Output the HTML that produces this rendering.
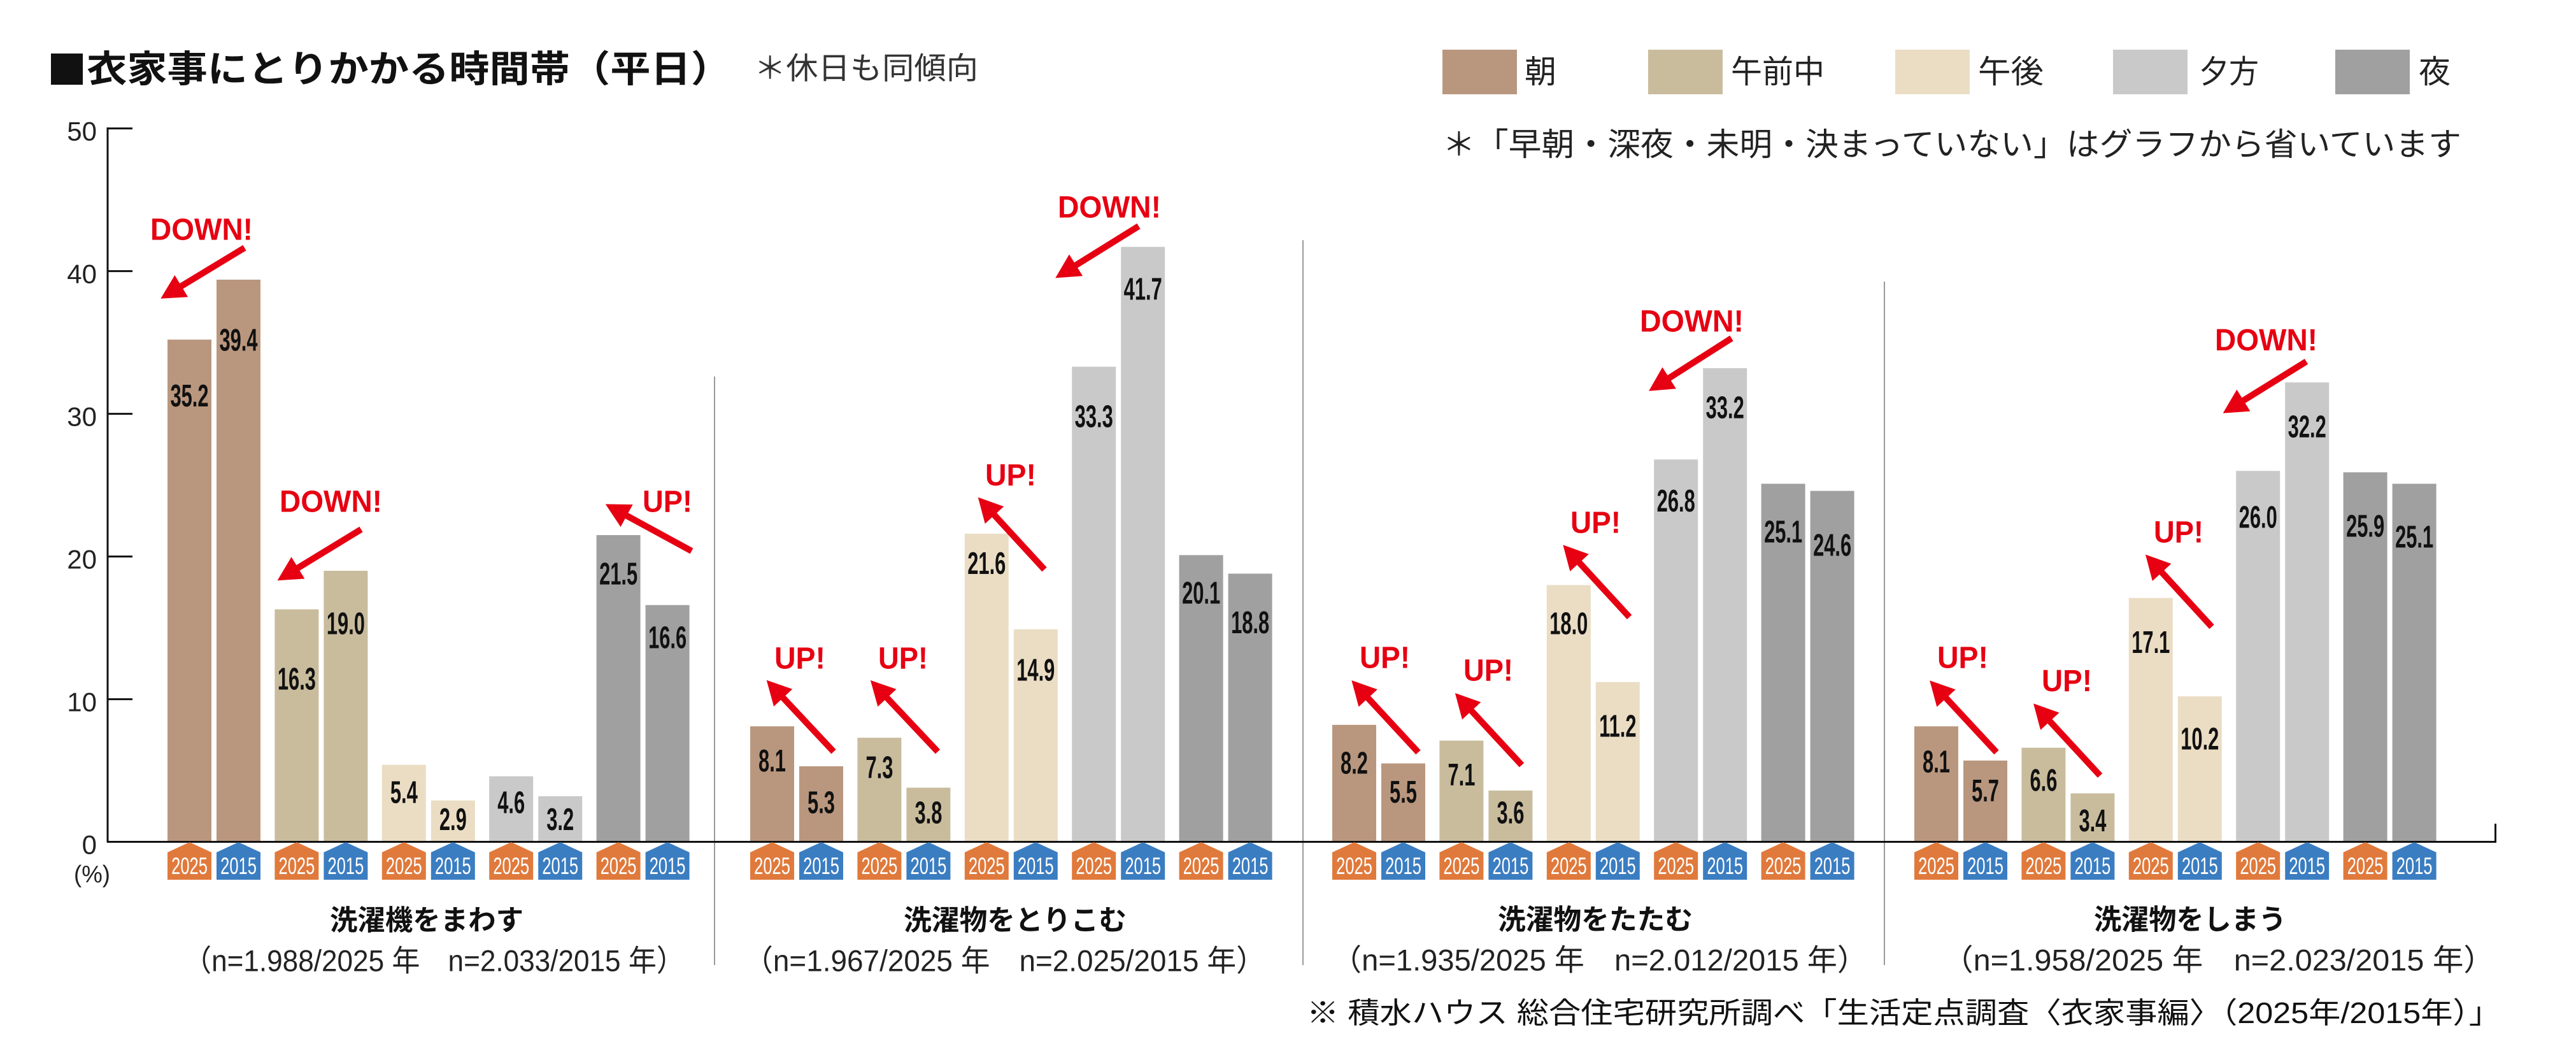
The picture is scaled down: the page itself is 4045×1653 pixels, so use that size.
<!DOCTYPE html>
<html lang="ja">
<head>
<meta charset="utf-8">
<style>
  html,body{margin:0;padding:0;background:#fff;}
  svg{display:block;}
  text{font-family:"Liberation Sans","Noto Sans CJK JP",sans-serif;}
</style>
</head>
<body>
<svg xmlns="http://www.w3.org/2000/svg" xmlns:xlink="http://www.w3.org/1999/xlink" width="4045" height="1653" viewBox="0 0 4045 1653">
<defs>
  <polygon id="arr" points="0,-5 116,-5 116,-20 154,0 116,20 116,5 0,5" fill="#E60012"/>
</defs>
<rect width="4045" height="1653" fill="#fff"/>

<!-- Title -->
<rect x="80" y="84" width="50" height="49" fill="#111"/>
<text x="136" y="109" font-size="58" font-weight="bold" fill="#111" dominant-baseline="central" textLength="1012" lengthAdjust="spacingAndGlyphs">衣家事にとりかかる時間帯（平日）</text>
<text x="1184" y="108" font-size="48" fill="#333" dominant-baseline="central" textLength="352" lengthAdjust="spacingAndGlyphs">＊休日も同傾向</text>

<!-- Legend -->
<rect x="2265" y="78" width="117" height="70" fill="#B9977E"/>
<text x="2394" y="113" font-size="50" fill="#222" dominant-baseline="central">朝</text>
<rect x="2588" y="78" width="117" height="70" fill="#C9BC9D"/>
<text x="2718" y="113" font-size="50" fill="#222" dominant-baseline="central" textLength="147" lengthAdjust="spacingAndGlyphs">午前中</text>
<rect x="2976" y="78" width="117" height="70" fill="#EADDC4"/>
<text x="3106" y="113" font-size="50" fill="#222" dominant-baseline="central" textLength="103" lengthAdjust="spacingAndGlyphs">午後</text>
<rect x="3318" y="78" width="117" height="70" fill="#C9C9C9"/>
<text x="3453" y="113" font-size="50" fill="#222" dominant-baseline="central" textLength="94" lengthAdjust="spacingAndGlyphs">夕方</text>
<rect x="3667" y="78" width="117" height="70" fill="#A0A0A0"/>
<text x="3798" y="113" font-size="50" fill="#222" dominant-baseline="central">夜</text>
<text x="2265" y="227" font-size="50" fill="#222" dominant-baseline="central" textLength="1600" lengthAdjust="spacingAndGlyphs">＊「早朝・深夜・未明・決まっていない」はグラフから省いています</text>

<!-- Y axis -->
<g stroke="#111" stroke-width="3" fill="none">
  <line x1="169" y1="200" x2="169" y2="1322"/>
  <line x1="169" y1="201.6" x2="208" y2="201.6"/>
  <line x1="169" y1="425.6" x2="208" y2="425.6"/>
  <line x1="169" y1="649.6" x2="208" y2="649.6"/>
  <line x1="169" y1="873.6" x2="208" y2="873.6"/>
  <line x1="169" y1="1097.6" x2="208" y2="1097.6"/>
</g>
<g font-size="42" fill="#222" text-anchor="end" dominant-baseline="central">
  <text x="152" y="206">50</text>
  <text x="152" y="430">40</text>
  <text x="152" y="654">30</text>
  <text x="152" y="878">20</text>
  <text x="152" y="1102">10</text>
  <text x="152" y="1326">0</text>
</g>
<text x="116" y="1373" font-size="38" fill="#222" dominant-baseline="central" textLength="57" lengthAdjust="spacingAndGlyphs">(%)</text>

<!-- Separators -->
<g stroke="#9a9a9a" stroke-width="2">
  <line x1="1122" y1="591" x2="1122" y2="1515"/>
  <line x1="2046" y1="377" x2="2046" y2="1515"/>
  <line x1="2959" y1="442" x2="2959" y2="1515"/>
</g>

<!-- Bars -->
<g>
  <!-- G1 -->
  <rect x="263" y="533.1" width="69" height="788.5" fill="#B9977E"/>
  <rect x="340" y="439.0" width="69" height="882.6" fill="#B9977E"/>
  <rect x="431.4" y="956.5" width="69" height="365.1" fill="#C9BC9D"/>
  <rect x="508.4" y="896.0" width="69" height="425.6" fill="#C9BC9D"/>
  <rect x="599.8" y="1200.6" width="69" height="121.0" fill="#EADDC4"/>
  <rect x="676.8" y="1256.6" width="69" height="65.0" fill="#EADDC4"/>
  <rect x="768.2" y="1218.6" width="69" height="103.0" fill="#C9C9C9"/>
  <rect x="845.2" y="1249.9" width="69" height="71.7" fill="#C9C9C9"/>
  <rect x="936.6" y="840.0" width="69" height="481.6" fill="#A0A0A0"/>
  <rect x="1013.6" y="949.8" width="69" height="371.8" fill="#A0A0A0"/>
  <!-- G2 -->
  <rect x="1178" y="1140.2" width="69" height="181.4" fill="#B9977E"/>
  <rect x="1255" y="1202.9" width="69" height="118.7" fill="#B9977E"/>
  <rect x="1346.4" y="1158.1" width="69" height="163.5" fill="#C9BC9D"/>
  <rect x="1423.4" y="1236.5" width="69" height="85.1" fill="#C9BC9D"/>
  <rect x="1514.8" y="837.8" width="69" height="483.8" fill="#EADDC4"/>
  <rect x="1591.8" y="987.8" width="69" height="333.8" fill="#EADDC4"/>
  <rect x="1683.2" y="575.7" width="69" height="745.9" fill="#C9C9C9"/>
  <rect x="1760.2" y="387.5" width="69" height="934.1" fill="#C9C9C9"/>
  <rect x="1851.6" y="871.4" width="69" height="450.2" fill="#A0A0A0"/>
  <rect x="1928.6" y="900.5" width="69" height="421.1" fill="#A0A0A0"/>
  <!-- G3 -->
  <rect x="2092" y="1137.9" width="69" height="183.7" fill="#B9977E"/>
  <rect x="2169" y="1198.4" width="69" height="123.2" fill="#B9977E"/>
  <rect x="2260.4" y="1162.6" width="69" height="159.0" fill="#C9BC9D"/>
  <rect x="2337.4" y="1241.0" width="69" height="80.6" fill="#C9BC9D"/>
  <rect x="2428.8" y="918.4" width="69" height="403.2" fill="#EADDC4"/>
  <rect x="2505.8" y="1070.7" width="69" height="250.9" fill="#EADDC4"/>
  <rect x="2597.2" y="721.3" width="69" height="600.3" fill="#C9C9C9"/>
  <rect x="2674.2" y="577.9" width="69" height="743.7" fill="#C9C9C9"/>
  <rect x="2765.6" y="759.4" width="69" height="562.2" fill="#A0A0A0"/>
  <rect x="2842.6" y="770.6" width="69" height="551.0" fill="#A0A0A0"/>
  <!-- G4 -->
  <rect x="3006" y="1140.2" width="69" height="181.4" fill="#B9977E"/>
  <rect x="3083" y="1193.9" width="69" height="127.7" fill="#B9977E"/>
  <rect x="3174.4" y="1173.8" width="69" height="147.8" fill="#C9BC9D"/>
  <rect x="3251.4" y="1245.4" width="69" height="76.2" fill="#C9BC9D"/>
  <rect x="3342.8" y="938.6" width="69" height="383.0" fill="#EADDC4"/>
  <rect x="3419.8" y="1093.1" width="69" height="228.5" fill="#EADDC4"/>
  <rect x="3511.2" y="739.2" width="69" height="582.4" fill="#C9C9C9"/>
  <rect x="3588.2" y="600.3" width="69" height="721.3" fill="#C9C9C9"/>
  <rect x="3679.6" y="741.4" width="69" height="580.2" fill="#A0A0A0"/>
  <rect x="3756.6" y="759.4" width="69" height="562.2" fill="#A0A0A0"/>
</g>

<!-- Baseline -->
<line x1="168" y1="1321.5" x2="3920" y2="1321.5" stroke="#111" stroke-width="3"/>
<line x1="3918.5" y1="1293" x2="3918.5" y2="1323" stroke="#111" stroke-width="3"/>

<!-- Value labels -->
<g font-size="49" font-weight="bold" fill="#111" text-anchor="middle">
  <!-- G1 -->
  <text transform="translate(297.5,638.1) scale(0.63,1)">35.2</text>
  <text transform="translate(374.5,550.5) scale(0.63,1)">39.4</text>
  <text transform="translate(465.9,1082.5) scale(0.63,1)">16.3</text>
  <text transform="translate(542.9,995.5) scale(0.63,1)">19.0</text>
  <text transform="translate(634.3,1260.5) scale(0.63,1)">5.4</text>
  <text transform="translate(711.3,1303) scale(0.63,1)">2.9</text>
  <text transform="translate(802.7,1276.5) scale(0.63,1)">4.6</text>
  <text transform="translate(879.7,1303) scale(0.63,1)">3.2</text>
  <text transform="translate(971.1,917.5) scale(0.63,1)">21.5</text>
  <text transform="translate(1048.1,1017.5) scale(0.63,1)">16.6</text>
  <!-- G2 -->
  <text transform="translate(1212.5,1211) scale(0.63,1)">8.1</text>
  <text transform="translate(1289.5,1276.5) scale(0.63,1)">5.3</text>
  <text transform="translate(1380.9,1221.5) scale(0.63,1)">7.3</text>
  <text transform="translate(1457.9,1292.5) scale(0.63,1)">3.8</text>
  <text transform="translate(1549.3,901.1) scale(0.63,1)">21.6</text>
  <text transform="translate(1626.3,1068.5) scale(0.63,1)">14.9</text>
  <text transform="translate(1717.7,670.5) scale(0.63,1)">33.3</text>
  <text transform="translate(1794.7,470.5) scale(0.63,1)">41.7</text>
  <text transform="translate(1886.1,947.5) scale(0.63,1)">20.1</text>
  <text transform="translate(1963.1,994.1) scale(0.63,1)">18.8</text>
  <!-- G3 -->
  <text transform="translate(2126.5,1214.5) scale(0.63,1)">8.2</text>
  <text transform="translate(2203.5,1260) scale(0.63,1)">5.5</text>
  <text transform="translate(2294.9,1233.1) scale(0.63,1)">7.1</text>
  <text transform="translate(2371.9,1292.5) scale(0.63,1)">3.6</text>
  <text transform="translate(2463.3,995.5) scale(0.63,1)">18.0</text>
  <text transform="translate(2540.3,1156.5) scale(0.63,1)">11.2</text>
  <text transform="translate(2631.7,803.1) scale(0.63,1)">26.8</text>
  <text transform="translate(2708.7,656.5) scale(0.63,1)">33.2</text>
  <text transform="translate(2800.1,851.5) scale(0.63,1)">25.1</text>
  <text transform="translate(2877.1,872.5) scale(0.63,1)">24.6</text>
  <!-- G4 -->
  <text transform="translate(3040.5,1212.5) scale(0.63,1)">8.1</text>
  <text transform="translate(3117.5,1258.1) scale(0.63,1)">5.7</text>
  <text transform="translate(3208.9,1241.5) scale(0.63,1)">6.6</text>
  <text transform="translate(3285.9,1305) scale(0.63,1)">3.4</text>
  <text transform="translate(3377.3,1025) scale(0.63,1)">17.1</text>
  <text transform="translate(3454.3,1176.5) scale(0.63,1)">10.2</text>
  <text transform="translate(3545.7,828.5) scale(0.63,1)">26.0</text>
  <text transform="translate(3622.7,686.5) scale(0.63,1)">32.2</text>
  <text transform="translate(3714.1,842.5) scale(0.63,1)">25.9</text>
  <text transform="translate(3791.1,859.5) scale(0.63,1)">25.1</text>
</g>

<!-- Badges -->
<g id="badges">
  <!-- G1 -->
  <polygon points="263,1338 297.5,1322 332,1338 332,1381 263,1381" fill="#E07A3C"/>
  <polygon points="340,1338 374.5,1322 409,1338 409,1381 340,1381" fill="#3B7DC1"/>
  <polygon points="431.4,1338 465.9,1322 500.4,1338 500.4,1381 431.4,1381" fill="#E07A3C"/>
  <polygon points="508.4,1338 542.9,1322 577.4,1338 577.4,1381 508.4,1381" fill="#3B7DC1"/>
  <polygon points="599.8,1338 634.3,1322 668.8,1338 668.8,1381 599.8,1381" fill="#E07A3C"/>
  <polygon points="676.8,1338 711.3,1322 745.8,1338 745.8,1381 676.8,1381" fill="#3B7DC1"/>
  <polygon points="768.2,1338 802.7,1322 837.2,1338 837.2,1381 768.2,1381" fill="#E07A3C"/>
  <polygon points="845.2,1338 879.7,1322 914.2,1338 914.2,1381 845.2,1381" fill="#3B7DC1"/>
  <polygon points="936.6,1338 971.1,1322 1005.6,1338 1005.6,1381 936.6,1381" fill="#E07A3C"/>
  <polygon points="1013.6,1338 1048.1,1322 1082.6,1338 1082.6,1381 1013.6,1381" fill="#3B7DC1"/>
  <!-- G2 -->
  <polygon points="1178,1338 1212.5,1322 1247,1338 1247,1381 1178,1381" fill="#E07A3C"/>
  <polygon points="1255,1338 1289.5,1322 1324,1338 1324,1381 1255,1381" fill="#3B7DC1"/>
  <polygon points="1346.4,1338 1380.9,1322 1415.4,1338 1415.4,1381 1346.4,1381" fill="#E07A3C"/>
  <polygon points="1423.4,1338 1457.9,1322 1492.4,1338 1492.4,1381 1423.4,1381" fill="#3B7DC1"/>
  <polygon points="1514.8,1338 1549.3,1322 1583.8,1338 1583.8,1381 1514.8,1381" fill="#E07A3C"/>
  <polygon points="1591.8,1338 1626.3,1322 1660.8,1338 1660.8,1381 1591.8,1381" fill="#3B7DC1"/>
  <polygon points="1683.2,1338 1717.7,1322 1752.2,1338 1752.2,1381 1683.2,1381" fill="#E07A3C"/>
  <polygon points="1760.2,1338 1794.7,1322 1829.2,1338 1829.2,1381 1760.2,1381" fill="#3B7DC1"/>
  <polygon points="1851.6,1338 1886.1,1322 1920.6,1338 1920.6,1381 1851.6,1381" fill="#E07A3C"/>
  <polygon points="1928.6,1338 1963.1,1322 1997.6,1338 1997.6,1381 1928.6,1381" fill="#3B7DC1"/>
  <!-- G3 -->
  <polygon points="2092,1338 2126.5,1322 2161,1338 2161,1381 2092,1381" fill="#E07A3C"/>
  <polygon points="2169,1338 2203.5,1322 2238,1338 2238,1381 2169,1381" fill="#3B7DC1"/>
  <polygon points="2260.4,1338 2294.9,1322 2329.4,1338 2329.4,1381 2260.4,1381" fill="#E07A3C"/>
  <polygon points="2337.4,1338 2371.9,1322 2406.4,1338 2406.4,1381 2337.4,1381" fill="#3B7DC1"/>
  <polygon points="2428.8,1338 2463.3,1322 2497.8,1338 2497.8,1381 2428.8,1381" fill="#E07A3C"/>
  <polygon points="2505.8,1338 2540.3,1322 2574.8,1338 2574.8,1381 2505.8,1381" fill="#3B7DC1"/>
  <polygon points="2597.2,1338 2631.7,1322 2666.2,1338 2666.2,1381 2597.2,1381" fill="#E07A3C"/>
  <polygon points="2674.2,1338 2708.7,1322 2743.2,1338 2743.2,1381 2674.2,1381" fill="#3B7DC1"/>
  <polygon points="2765.6,1338 2800.1,1322 2834.6,1338 2834.6,1381 2765.6,1381" fill="#E07A3C"/>
  <polygon points="2842.6,1338 2877.1,1322 2911.6,1338 2911.6,1381 2842.6,1381" fill="#3B7DC1"/>
  <!-- G4 -->
  <polygon points="3006,1338 3040.5,1322 3075,1338 3075,1381 3006,1381" fill="#E07A3C"/>
  <polygon points="3083,1338 3117.5,1322 3152,1338 3152,1381 3083,1381" fill="#3B7DC1"/>
  <polygon points="3174.4,1338 3208.9,1322 3243.4,1338 3243.4,1381 3174.4,1381" fill="#E07A3C"/>
  <polygon points="3251.4,1338 3285.9,1322 3320.4,1338 3320.4,1381 3251.4,1381" fill="#3B7DC1"/>
  <polygon points="3342.8,1338 3377.3,1322 3411.8,1338 3411.8,1381 3342.8,1381" fill="#E07A3C"/>
  <polygon points="3419.8,1338 3454.3,1322 3488.8,1338 3488.8,1381 3419.8,1381" fill="#3B7DC1"/>
  <polygon points="3511.2,1338 3545.7,1322 3580.2,1338 3580.2,1381 3511.2,1381" fill="#E07A3C"/>
  <polygon points="3588.2,1338 3622.7,1322 3657.2,1338 3657.2,1381 3588.2,1381" fill="#3B7DC1"/>
  <polygon points="3679.6,1338 3714.1,1322 3748.6,1338 3748.6,1381 3679.6,1381" fill="#E07A3C"/>
  <polygon points="3756.6,1338 3791.1,1322 3825.6,1338 3825.6,1381 3756.6,1381" fill="#3B7DC1"/>
</g>
<g font-size="37" fill="#fff" text-anchor="middle">
  <text transform="translate(297.5,1372) scale(0.69,1)">2025</text>
  <text transform="translate(374.5,1372) scale(0.69,1)">2015</text>
  <text transform="translate(465.9,1372) scale(0.69,1)">2025</text>
  <text transform="translate(542.9,1372) scale(0.69,1)">2015</text>
  <text transform="translate(634.3,1372) scale(0.69,1)">2025</text>
  <text transform="translate(711.3,1372) scale(0.69,1)">2015</text>
  <text transform="translate(802.7,1372) scale(0.69,1)">2025</text>
  <text transform="translate(879.7,1372) scale(0.69,1)">2015</text>
  <text transform="translate(971.1,1372) scale(0.69,1)">2025</text>
  <text transform="translate(1048.1,1372) scale(0.69,1)">2015</text>

  <text transform="translate(1212.5,1372) scale(0.69,1)">2025</text>
  <text transform="translate(1289.5,1372) scale(0.69,1)">2015</text>
  <text transform="translate(1380.9,1372) scale(0.69,1)">2025</text>
  <text transform="translate(1457.9,1372) scale(0.69,1)">2015</text>
  <text transform="translate(1549.3,1372) scale(0.69,1)">2025</text>
  <text transform="translate(1626.3,1372) scale(0.69,1)">2015</text>
  <text transform="translate(1717.7,1372) scale(0.69,1)">2025</text>
  <text transform="translate(1794.7,1372) scale(0.69,1)">2015</text>
  <text transform="translate(1886.1,1372) scale(0.69,1)">2025</text>
  <text transform="translate(1963.1,1372) scale(0.69,1)">2015</text>

  <text transform="translate(2126.5,1372) scale(0.69,1)">2025</text>
  <text transform="translate(2203.5,1372) scale(0.69,1)">2015</text>
  <text transform="translate(2294.9,1372) scale(0.69,1)">2025</text>
  <text transform="translate(2371.9,1372) scale(0.69,1)">2015</text>
  <text transform="translate(2463.3,1372) scale(0.69,1)">2025</text>
  <text transform="translate(2540.3,1372) scale(0.69,1)">2015</text>
  <text transform="translate(2631.7,1372) scale(0.69,1)">2025</text>
  <text transform="translate(2708.7,1372) scale(0.69,1)">2015</text>
  <text transform="translate(2800.1,1372) scale(0.69,1)">2025</text>
  <text transform="translate(2877.1,1372) scale(0.69,1)">2015</text>

  <text transform="translate(3040.5,1372) scale(0.69,1)">2025</text>
  <text transform="translate(3117.5,1372) scale(0.69,1)">2015</text>
  <text transform="translate(3208.9,1372) scale(0.69,1)">2025</text>
  <text transform="translate(3285.9,1372) scale(0.69,1)">2015</text>
  <text transform="translate(3377.3,1372) scale(0.69,1)">2025</text>
  <text transform="translate(3454.3,1372) scale(0.69,1)">2015</text>
  <text transform="translate(3545.7,1372) scale(0.69,1)">2025</text>
  <text transform="translate(3622.7,1372) scale(0.69,1)">2015</text>
  <text transform="translate(3714.1,1372) scale(0.69,1)">2025</text>
  <text transform="translate(3791.1,1372) scale(0.69,1)">2015</text>
</g>

<!-- Arrows -->
<g>
  <use xlink:href="#arr" href="#arr" transform="translate(384,389) rotate(148.8)"/>
  <use xlink:href="#arr" href="#arr" transform="translate(567,831) rotate(148.6)"/>
  <use xlink:href="#arr" href="#arr" transform="translate(1086,865) rotate(208.55)"/>
  <use xlink:href="#arr" href="#arr" transform="translate(1309,1180) rotate(-133.15)"/>
  <use xlink:href="#arr" href="#arr" transform="translate(1472.5,1180) rotate(-133.3)"/>
  <use xlink:href="#arr" href="#arr" transform="translate(1640,894) rotate(-132.6)"/>
  <use xlink:href="#arr" href="#arr" transform="translate(1788,355) rotate(148.1)"/>
  <use xlink:href="#arr" href="#arr" transform="translate(2227,1181) rotate(-132.8)"/>
  <use xlink:href="#arr" href="#arr" transform="translate(2389.5,1201) rotate(-132.8)"/>
  <use xlink:href="#arr" href="#arr" transform="translate(2558.6,968.75) rotate(-132.6)"/>
  <use xlink:href="#arr" href="#arr" transform="translate(2719,531) rotate(147.5)"/>
  <use xlink:href="#arr" href="#arr" transform="translate(3135,1181) rotate(-132.9)"/>
  <use xlink:href="#arr" href="#arr" transform="translate(3297.6,1217.5) rotate(-132.75)"/>
  <use xlink:href="#arr" href="#arr" transform="translate(3473,984) rotate(-132.5)"/>
  <use xlink:href="#arr" href="#arr" transform="translate(3621.5,567.5) rotate(148.2)"/>
</g>
<g font-size="48" font-weight="bold" fill="#E60012">
  <text x="236" y="376.5" textLength="161" lengthAdjust="spacingAndGlyphs">DOWN!</text>
  <text x="439" y="803.5" textLength="161" lengthAdjust="spacingAndGlyphs">DOWN!</text>
  <text x="1009" y="803.5" textLength="78" lengthAdjust="spacingAndGlyphs">UP!</text>
  <text x="1216" y="1049.5" textLength="80" lengthAdjust="spacingAndGlyphs">UP!</text>
  <text x="1379" y="1049.5" textLength="78" lengthAdjust="spacingAndGlyphs">UP!</text>
  <text x="1547" y="762" textLength="80" lengthAdjust="spacingAndGlyphs">UP!</text>
  <text x="1661" y="341.5" textLength="162" lengthAdjust="spacingAndGlyphs">DOWN!</text>
  <text x="2135" y="1048.5" textLength="79" lengthAdjust="spacingAndGlyphs">UP!</text>
  <text x="2298" y="1068.5" textLength="78" lengthAdjust="spacingAndGlyphs">UP!</text>
  <text x="2466" y="836.5" textLength="79" lengthAdjust="spacingAndGlyphs">UP!</text>
  <text x="2575" y="520.5" textLength="163" lengthAdjust="spacingAndGlyphs">DOWN!</text>
  <text x="3042" y="1048.5" textLength="80" lengthAdjust="spacingAndGlyphs">UP!</text>
  <text x="3206" y="1085" textLength="79" lengthAdjust="spacingAndGlyphs">UP!</text>
  <text x="3382" y="851.5" textLength="78" lengthAdjust="spacingAndGlyphs">UP!</text>
  <text x="3478" y="550" textLength="161" lengthAdjust="spacingAndGlyphs">DOWN!</text>
</g>

<!-- Group labels -->
<g font-size="44" font-weight="bold" fill="#111" dominant-baseline="central">
  <text x="518" y="1445" textLength="304" lengthAdjust="spacingAndGlyphs">洗濯機をまわす</text>
  <text x="1419" y="1445" textLength="350" lengthAdjust="spacingAndGlyphs">洗濯物をとりこむ</text>
  <text x="2352" y="1444" textLength="306" lengthAdjust="spacingAndGlyphs">洗濯物をたたむ</text>
  <text x="3288" y="1444" textLength="302" lengthAdjust="spacingAndGlyphs">洗濯物をしまう</text>
</g>
<g font-size="47" fill="#222" dominant-baseline="central">
  <text x="288" y="1508" textLength="787" lengthAdjust="spacingAndGlyphs">（n=1.988/2025 年　n=2.033/2015 年）</text>
  <text x="1168" y="1508" textLength="819" lengthAdjust="spacingAndGlyphs">（n=1.967/2025 年　n=2.025/2015 年）</text>
  <text x="2091" y="1507" textLength="841" lengthAdjust="spacingAndGlyphs">（n=1.935/2025 年　n=2.012/2015 年）</text>
  <text x="3050" y="1507" textLength="867" lengthAdjust="spacingAndGlyphs">（n=1.958/2025 年　n=2.023/2015 年）</text>
</g>

<!-- Footnote -->
<text x="2052" y="1590" font-size="46" fill="#111" dominant-baseline="central" textLength="1875" lengthAdjust="spacingAndGlyphs">※ 積水ハウス 総合住宅研究所調べ「生活定点調査〈衣家事編〉（2025年/2015年）」</text>
</svg>
</body>
</html>
